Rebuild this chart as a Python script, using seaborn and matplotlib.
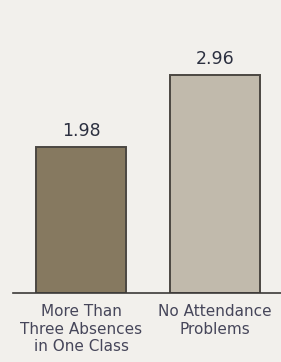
import matplotlib
matplotlib.use('Agg')
import matplotlib.pyplot as plt
import seaborn as sns
import pandas as pd

# data
categories = ['More Than\nThree Absences\nin One Class', 'No Attendance\nProblems']
values = [1.98, 2.96]
bar_colors = ['#8c7b5a', '#c5bba8']

BG = '#f2f0ec'
TEXT = '#46465a'

sns.set_style('white')
plt.rcParams['font.family'] = ['DejaVu Sans']

df = pd.DataFrame({'group': categories, 'score': values})

fig = plt.figure(figsize=(2.81, 3.62), dpi=100, facecolor=BG)
ax = fig.add_axes([13 / 281, 69 / 362, 1 - 13 / 281, 293 / 362])
ax.set_facecolor(BG)

sns.barplot(data=df, x='group', y='score', hue='group', palette=bar_colors,
            legend=False, width=0.67, edgecolor='#4b4742', linewidth=1.4, ax=ax)

for cont in ax.containers:
    ax.bar_label(cont, fmt='%.2f', padding=5, fontsize=12.5, color='#2c3040')

ax.set_ylim(0, 3.98)
ax.set_xlim(-0.507, 1.49)
ax.set_xlabel('')
ax.set_ylabel('')
ax.set_yticks([])
ax.tick_params(axis='x', length=0, pad=8, labelsize=11, labelcolor=TEXT)
for lab in ax.get_xticklabels():
    lab.set_linespacing(1.2)

for side in ['top', 'right', 'left']:
    ax.spines[side].set_visible(False)
ax.spines['bottom'].set_color('#3c3a38')
ax.spines['bottom'].set_linewidth(1.2)

fig.savefig('out.png', dpi=100, facecolor=BG)
